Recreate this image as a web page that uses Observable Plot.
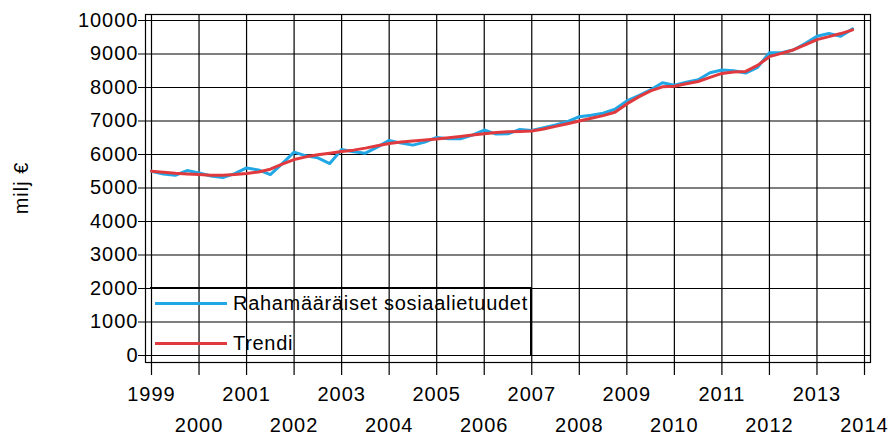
<!DOCTYPE html>
<html>
<head>
<meta charset="utf-8">
<script src="https://cdn.jsdelivr.net/npm/d3@7"></script>
<script src="https://cdn.jsdelivr.net/npm/@observablehq/plot@0.6"></script>
<style>
  html, body { margin: 0; padding: 0; background: #fff; }
  #wrap { position: relative; width: 893px; height: 444px; font-family: "Liberation Sans", Arial, sans-serif; }
  #wrap svg text { letter-spacing: 1px; }
  #legend { position: absolute; left: 150px; top: 287px; width: 380px; height: 67px;
            border-top: 2px solid #000; border-right: 2px solid #000; box-sizing: content-box; }
  .item { position: absolute; left: 5px; height: 24px; display: flex; align-items: center; font-size: 20px;
          letter-spacing: 0.7px; color: #000; white-space: nowrap; width: 380px; }
  .sw { width: 72px; height: 3px; margin-right: 6px; flex: none; }
</style>
</head>
<body>
<div id="wrap"></div>
<script>
// Quarterly data 1999Q1 .. 2013Q4
const years = d3.range(1999, 2014);
const quarterLabels = years.flatMap(y => ["Q1","Q2","Q3","Q4"].map(q => y + q));

// Rahamääräiset sosiaalietuudet (milj €)
const benefits = [
  5500, 5420, 5380, 5520,
  5450, 5360, 5310, 5430,
  5600, 5540, 5400, 5730,
  6070, 5960, 5900, 5730,
  6150, 6080, 6040, 6220,
  6420, 6340, 6280, 6370,
  6510, 6470, 6470, 6580,
  6730, 6610, 6620, 6750,
  6720, 6800, 6880, 6980,
  7130, 7170, 7230, 7350,
  7600, 7760, 7930, 8140,
  8070, 8160, 8230, 8440,
  8520, 8500, 8430, 8600,
  9040, 9040, 9120, 9310,
  9530, 9610, 9530, 9750
];

// Trendi (milj €)
const trend = [
  5500, 5470, 5440, 5420,
  5400, 5380, 5380, 5400,
  5430, 5480, 5560, 5710,
  5850, 5930, 5990, 6040,
  6090, 6130, 6190, 6260,
  6330, 6370, 6400, 6430,
  6460, 6500, 6540, 6580,
  6620, 6660, 6680, 6690,
  6700, 6760, 6840, 6920,
  7000, 7080, 7160, 7260,
  7510, 7720, 7900, 8020,
  8040, 8110, 8180, 8300,
  8420, 8460, 8480, 8660,
  8920, 9020, 9120, 9270,
  9430, 9520, 9610, 9720
];

const axisYears = d3.range(1999, 2015);
const yTicks = d3.range(0, 10001, 1000);
const seriesNames = ["Rahamääräiset sosiaalietuudet", "Trendi"];
const seriesColors = ["#22a7e6", "#e03a3e"];
const yLabel = "milj €";

const toTime = s => +s.slice(0, 4) + (+s.slice(5) - 1) / 4;
const rows = quarterLabels.flatMap((q, i) => [
  {t: toTime(q), v: benefits[i], s: seriesNames[0]},
  {t: toTime(q), v: trend[i], s: seriesNames[1]}
]);

const chart = Plot.plot({
  width: 893,
  height: 444,
  marginLeft: 151,
  marginRight: 29,
  marginTop: 20,
  marginBottom: 89,
  style: {fontFamily: "'Liberation Sans', Arial, sans-serif", fontSize: "20px", background: "#fff", overflow: "visible", color: "#000"},
  x: {domain: [1999, 2014]},
  y: {domain: [0, 10000]},
  color: {domain: seriesNames, range: seriesColors},
  marks: [
    Plot.gridX(axisYears, {stroke: "#000", strokeOpacity: 1, strokeWidth: 1.2, insetTop: -6, insetBottom: -20}),
    Plot.gridY(yTicks, {stroke: "#000", strokeOpacity: 1, strokeWidth: 1.2, insetLeft: -13, insetRight: -6}),
    Plot.frame({stroke: "#000", strokeWidth: 1.2, insetTop: -6, insetBottom: -7, insetLeft: -6, insetRight: -6}),
    Plot.axisY(yTicks, {tickSize: 0, tickPadding: 13, tickFormat: d => String(d), label: yLabel, labelAnchor: "center", labelArrow: "none", labelOffset: 138}),
    Plot.axisX(axisYears.filter(d => d % 2 === 1), {tickSize: 0, tickPadding: 31, tickFormat: d => String(d), label: null}),
    Plot.axisX(axisYears.filter(d => d % 2 === 0), {tickSize: 0, tickPadding: 62, tickFormat: d => String(d), label: null}),
    Plot.line(rows, {x: "t", y: "v", z: "s", stroke: "s", strokeWidth: 3})
  ]
});
const wrap = document.getElementById("wrap");
wrap.appendChild(chart);

const legend = document.createElement("div");
legend.id = "legend";
seriesNames.forEach((name, i) => {
  const it = document.createElement("div");
  it.className = "item";
  it.style.top = (i === 0 ? 2 : 42) + "px";
  const sw = document.createElement("span");
  sw.className = "sw";
  sw.style.background = seriesColors[i];
  const tx = document.createElement("span");
  tx.textContent = name;
  it.appendChild(sw);
  it.appendChild(tx);
  legend.appendChild(it);
});
wrap.appendChild(legend);
</script>
</body>
</html>
